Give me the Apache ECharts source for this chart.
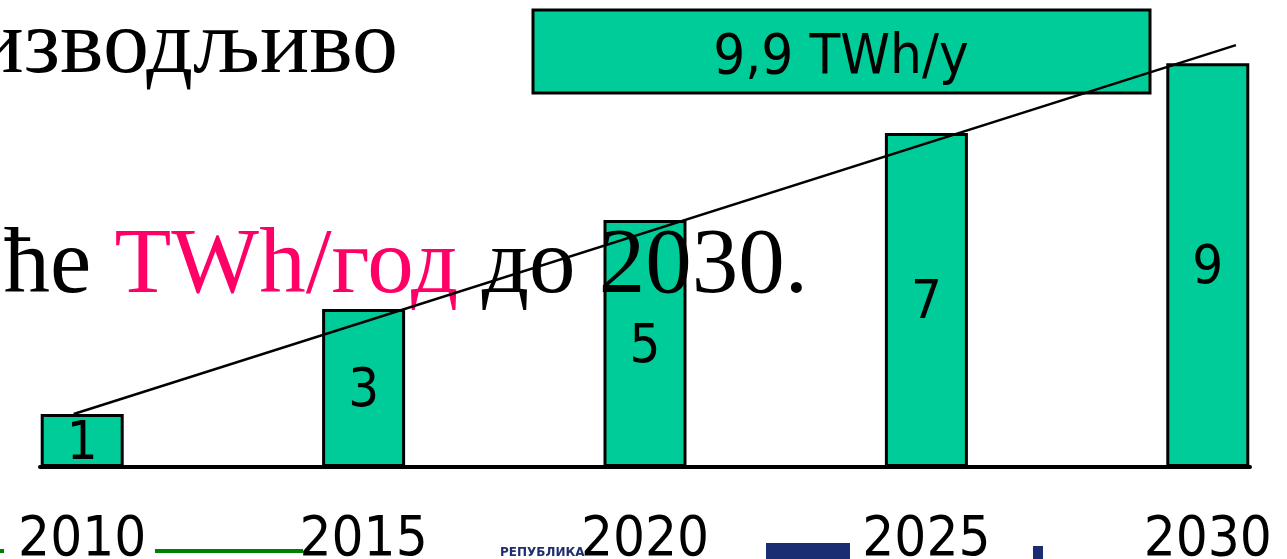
<!DOCTYPE html>
<html>
<head>
<meta charset="utf-8">
<script src="https://cdn.jsdelivr.net/npm/echarts@6/dist/echarts.min.js"></script>
<style>
  html, body { margin: 0; padding: 0; background: #fff; }
  #chart { width: 1287px; height: 559px; }
</style>
</head>
<body>
<div id="chart"></div>
<script>
// Data
const years = ['2010', '2015', '2020', '2025', '2030']
const barHeights = [1.0, 2.98, 4.66, 6.3, 7.62]
const barLabels = ['1', '3', '5', '7', '9']
const trendX = [-0.03, 4.1]
const trendY = [1.0, 7.96]
const totalLabel = '9,9 TWh/y'

const green = '#00CC99'
const sans = '"DejaVu Sans Condensed", "DejaVu Sans", sans-serif'
const serif = '"Liberation Serif", "DejaVu Serif", serif'

const chart = echarts.init(document.getElementById('chart'))

const option = {
  backgroundColor: '#fff',
  animation: false,
  grid: { left: 40, right: 37, top: 16.5, bottom: 92, outerBoundsMode: 'none', containLabel: false },
  xAxis: {
    type: 'value',
    min: -0.15,
    max: 4.15,
    splitLine: { show: false },
    axisLine: { show: true, onZero: false, lineStyle: { color: '#000', width: 4 } },
    axisTick: { show: false },
    axisLabel: {
      customValues: [0, 1, 2, 3, 4],
      margin: 45,
      fontFamily: sans,
      fontSize: 56,
      color: '#000',
      formatter: v => years[Math.round(v)]
    }
  },
  yAxis: {
    type: 'value',
    min: 0,
    max: 8.5,
    show: false
  },
  graphic: [
    // slide text behind the chart
    {
      type: 'text', z: 5,
      style: {
        text: 'изводљиво', x: 398, y: 2, align: 'right', verticalAlign: 'top',
        font: '92px ' + serif, fill: '#000'
      }
    },
    {
      type: 'text', z: 5,
      style: {
        x: 808, y: 221, align: 'right', verticalAlign: 'top',
        text: '{a|ће }{b|TWh/год}{a| до 2030.}',
        font: '93px ' + serif,
        rich: {
          a: { fontFamily: serif, fontSize: 93, fill: '#000', color: '#000' },
          b: { fontFamily: serif, fontSize: 93, fill: '#FF0066', color: '#FF0066' }
        }
      }
    },
    // total box
    {
      type: 'rect', z: 8,
      shape: { x: 533, y: 10, width: 617, height: 83 },
      style: { fill: green, stroke: '#000', lineWidth: 3 }
    },
    {
      type: 'text', z: 9,
      style: {
        text: totalLabel, x: 841, y: 58, align: 'center', verticalAlign: 'middle',
        font: '56px ' + sans, fill: '#000'
      }
    },
    // bits of the slide footer logos
    { type: 'rect', z: 5, shape: { x: 0, y: 549, width: 4, height: 4 }, style: { fill: '#008000' } },
    { type: 'rect', z: 5, shape: { x: 155, y: 549, width: 148, height: 4 }, style: { fill: '#008000' } },
    {
      type: 'text', z: 5,
      style: {
        text: 'РЕПУБЛИКА', x: 500, y: 553, verticalAlign: 'middle',
        font: 'bold 12px "DejaVu Sans", sans-serif', fill: '#1f2f6e'
      }
    },
    { type: 'rect', z: 5, shape: { x: 766, y: 543, width: 84, height: 16 }, style: { fill: '#1b2d72' } },
    { type: 'rect', z: 5, shape: { x: 1033, y: 546, width: 10, height: 13 }, style: { fill: '#1b2d72' } }
  ],
  series: [
    {
      type: 'bar',
      barWidth: 83,
      z: 3,
      data: barHeights.map((v, i) => [i, v]),
      itemStyle: { color: green, borderColor: '#000', borderWidth: 3 },
      label: {
        show: true,
        position: 'inside',
        offset: [0, 4],
        fontFamily: sans,
        fontSize: 54,
        color: '#000',
        formatter: p => barLabels[p.dataIndex]
      }
    },
    {
      type: 'line',
      z: 10,
      zlevel: 1,
      symbol: 'none',
      data: trendX.map((x, i) => [x, trendY[i]]),
      lineStyle: { color: '#000', width: 2.5 }
    }
  ]
}

chart.setOption(option)
</script>
</body>
</html>
